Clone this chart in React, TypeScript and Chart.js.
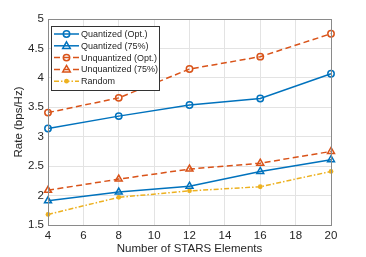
import { useEffect, useRef } from "react";
import { Chart, registerables } from "chart.js";
Chart.register(...registerables);

const elements = [4, 8, 12, 16, 20];
const quantizedOpt = [3.14, 3.35, 3.54, 3.65, 4.07];
const quantized75 = [1.91, 2.06, 2.16, 2.41, 2.61];
const unquantizedOpt = [3.41, 3.66, 4.15, 4.36, 4.75];
const unquantized75 = [2.09, 2.28, 2.45, 2.55, 2.75];
const randomRate = [1.68, 1.97, 2.08, 2.15, 2.41];
const seriesNames = ["Quantized (Opt.)", "Quantized (75%)", "Unquantized (Opt.)", "Unquantized (75%)", "Random"];
const xTitle = "Number of STARS Elements";
const yTitle = "Rate (bps/Hz)";

const BLUE = "#0072BD";
const ORANGE = "#D95319";
const YELLOW = "#EDB120";
const FONT = "'Liberation Sans', Arial, Helvetica, sans-serif";
const TEXT = "#262626";

type Style = { color: string; dash: number[]; marker: "circle" | "triangle" | "dot" };
const styles: Style[] = [
  { color: BLUE, dash: [], marker: "circle" },
  { color: BLUE, dash: [], marker: "triangle" },
  { color: ORANGE, dash: [6, 3.5], marker: "circle" },
  { color: ORANGE, dash: [6, 3.5], marker: "triangle" },
  { color: YELLOW, dash: [5, 2, 1.5, 2], marker: "dot" },
];
const seriesValues = [quantizedOpt, quantized75, unquantizedOpt, unquantized75, randomRate];

function drawMarker(ctx: CanvasRenderingContext2D, s: Style, x: number, y: number) {
  ctx.save();
  ctx.setLineDash([]);
  ctx.strokeStyle = s.color;
  ctx.fillStyle = s.color;
  ctx.lineWidth = 1.5;
  ctx.beginPath();
  if (s.marker === "circle") {
    ctx.arc(x, y, 3.2, 0, Math.PI * 2);
    ctx.stroke();
  } else if (s.marker === "triangle") {
    const r = 4;
    ctx.moveTo(x, y - r);
    ctx.lineTo(x + r * 0.95, y + r * 0.65);
    ctx.lineTo(x - r * 0.95, y + r * 0.65);
    ctx.closePath();
    ctx.stroke();
  } else {
    ctx.arc(x, y, 2.4, 0, Math.PI * 2);
    ctx.fill();
  }
  ctx.restore();
}

const boxPlugin = {
  id: "boxPlugin",
  afterDatasetsDraw(chart: any) {
    const { ctx, chartArea: a } = chart;
    ctx.save();
    ctx.strokeStyle = "#8a8a8a";
    ctx.lineWidth = 1;
    ctx.strokeRect(Math.round(a.left) + 0.5, Math.round(a.top) + 0.5, Math.round(a.right - a.left), Math.round(a.bottom - a.top));
    ctx.restore();
  },
  afterDraw(chart: any) {
    const { ctx } = chart;
    const bx = 51, by = 26, bw = 108, bh = 64;
    ctx.save();
    ctx.fillStyle = "#ffffff";
    ctx.fillRect(bx, by, bw, bh);
    ctx.strokeStyle = "#333333";
    ctx.lineWidth = 1;
    ctx.strokeRect(bx + 0.5, by + 0.5, bw, bh);
    ctx.font = `9px ${FONT}`;
    ctx.textBaseline = "middle";
    ctx.textAlign = "left";
    seriesNames.forEach((name, i) => {
      const s = styles[i];
      const y = 34 + i * 11.8;
      ctx.save();
      ctx.strokeStyle = s.color;
      ctx.lineWidth = 1.5;
      ctx.setLineDash(s.dash);
      ctx.beginPath();
      ctx.moveTo(54, y);
      ctx.lineTo(79, y);
      ctx.stroke();
      ctx.restore();
      drawMarker(ctx, s, 66.5, y);
      ctx.fillStyle = TEXT;
      ctx.fillText(name, 81, y + 0.5);
    });
    ctx.restore();
  },
};

export default function App() {
  const ref = useRef<HTMLCanvasElement | null>(null);
  useEffect(() => {
    document.body.style.margin = "0";
    const canvas = ref.current!;
    const datasets = seriesNames.map((name, i) => {
      const s = styles[i];
      return {
        label: name,
        data: elements.map((x, j) => ({ x, y: seriesValues[i][j] })),
        borderColor: s.color,
        backgroundColor: s.marker === "dot" ? s.color : "rgba(255,255,255,0)",
        borderWidth: 1.5,
        borderDash: s.dash,
        pointStyle: s.marker === "triangle" ? "triangle" : "circle",
        pointRadius: s.marker === "circle" ? 3.2 : s.marker === "triangle" ? 4 : 2.4,
        pointBorderWidth: s.marker === "dot" ? 0 : 1.5,
        pointBorderColor: s.color,
        pointBackgroundColor: s.marker === "dot" ? s.color : "rgba(255,255,255,0)",
        tension: 0,
        clip: false as any,
      };
    });
    const chart = new Chart(canvas, {
      type: "line",
      data: { datasets },
      options: {
        responsive: false,
        animation: false,
        devicePixelRatio: 1,
        layout: { padding: { top: 19, right: 35, left: 0, bottom: 0 } },
        plugins: { legend: { display: false }, tooltip: { enabled: false } },
        scales: {
          x: {
            type: "linear",
            min: 4,
            max: 20,
            afterFit: (s: any) => { s.height = 32; },
            ticks: { stepSize: 2, color: TEXT, font: { family: FONT, size: 11.5 }, padding: 4, maxRotation: 0, callback: (v: any) => String(v) },
            grid: { color: "#e3e3e3", drawTicks: false, lineWidth: 1 },
            border: { display: false },
            title: { display: true, text: xTitle, color: TEXT, font: { family: FONT, size: 11.5 }, padding: { top: 0, bottom: 1 } },
          },
          y: {
            type: "linear",
            min: 1.5,
            max: 5,
            afterFit: (s: any) => { s.width = 48; },
            ticks: { stepSize: 0.5, color: TEXT, font: { family: FONT, size: 11.5 }, padding: 4, callback: (v: any) => String(v) },
            grid: { color: "#e3e3e3", drawTicks: false, lineWidth: 1 },
            border: { display: false },
            title: { display: true, text: yTitle, color: TEXT, font: { family: FONT, size: 11.5 }, padding: { top: 12, bottom: 0 } },
          },
        },
      },
      plugins: [boxPlugin],
    });
    return () => chart.destroy();
  }, []);
  return <canvas ref={ref} width={366} height={257} style={{ display: "block", width: 366, height: 257 }} />;
}
